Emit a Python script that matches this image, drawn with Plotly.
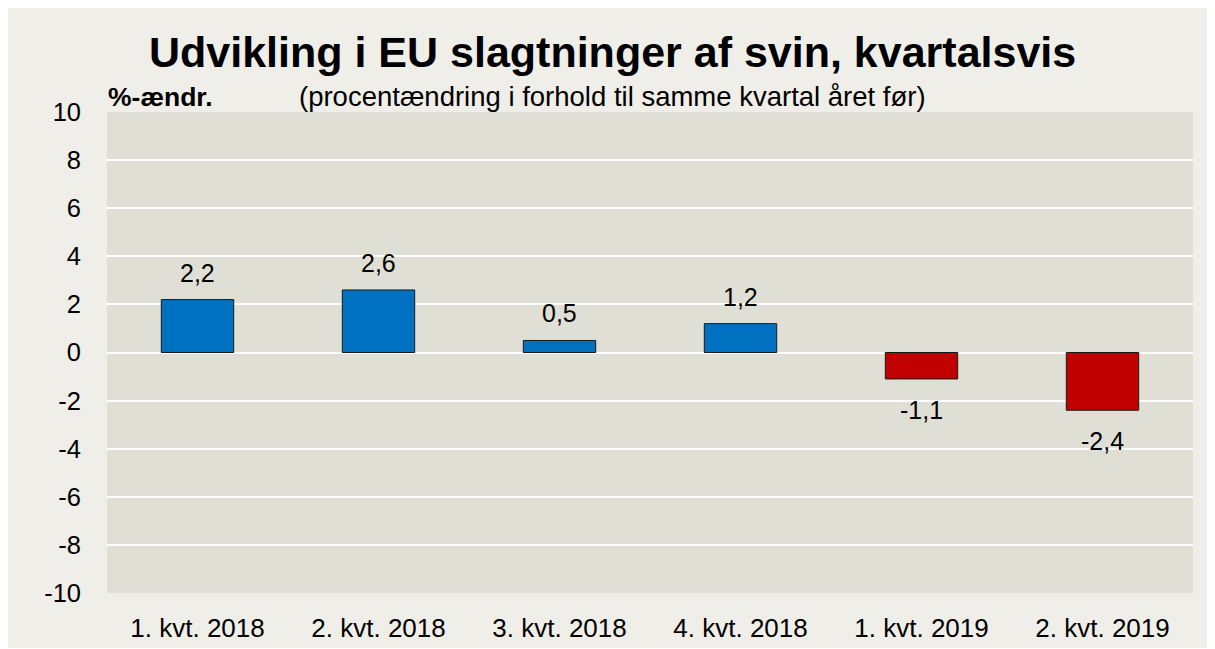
import plotly.graph_objects as go

categories = ["1. kvt. 2018", "2. kvt. 2018", "3. kvt. 2018", "4. kvt. 2018", "1. kvt. 2019", "2. kvt. 2019"]
values = [2.2, 2.6, 0.5, 1.2, -1.1, -2.4]
tick_vals = [-10, -8, -6, -4, -2, 0, 2, 4, 6, 8, 10]

colors = ["#0070C0" if v >= 0 else "#C00000" for v in values]
labels = [f"{v:.1f}".replace(".", ",") for v in values]

FONT = "Liberation Sans, Arial"

fig = go.Figure()
fig.add_trace(go.Bar(
    x=categories, y=values, width=0.4,
    marker=dict(color=colors, line=dict(color="#1a1a1a", width=1)),
    hoverinfo="skip",
))

for c, v, t in zip(categories, values, labels):
    fig.add_annotation(
        x=c, y=v, text=t, showarrow=False,
        yanchor="bottom" if v >= 0 else "top",
        yshift=11 if v >= 0 else -15,
        font=dict(family=FONT, size=25, color="#000000"),
    )

# page offset (body margin) compensation
OX, OY = 8, 8
W, H = 1215, 649
# target screen coords of plot area
SL, SR, ST, SB = 107, 1193, 112, 593
L = SL - OX
T = ST - OY
R = W - (SR - OX)
B = H - (SB - OY)
pw, ph = W - L - R, H - T - B

def px(x):
    return (x - OX - L) / pw

def py(y):
    return (H - B - (y - OY)) / ph

fig.add_shape(type="rect", xref="paper", yref="paper",
              x0=px(7), x1=px(1208), y0=py(648), y1=py(5),
              fillcolor="#EFEEE8", line=dict(width=0), layer="below")
fig.add_shape(type="rect", xref="paper", yref="paper",
              x0=0, x1=1, y0=0, y1=1,
              fillcolor="#E0DFD5", line=dict(width=0), layer="below")

fig.add_annotation(xref="paper", yref="paper", x=px(612), y=py(52),
                   text="<b>Udvikling i EU slagtninger af svin, kvartalsvis</b>",
                   showarrow=False, xanchor="center", yanchor="middle",
                   font=dict(family=FONT, size=43, color="#000000"))
fig.add_annotation(xref="paper", yref="paper", x=px(612), y=py(96),
                   text="(procentændring i forhold til samme kvartal året før)",
                   showarrow=False, xanchor="center", yanchor="middle",
                   font=dict(family=FONT, size=27.5, color="#000000"))
fig.add_annotation(xref="paper", yref="paper", x=px(106), y=py(97),
                   text="<b>%-ændr.</b>",
                   showarrow=False, xanchor="left", yanchor="middle",
                   font=dict(family=FONT, size=26.5, color="#000000"))

fig.update_layout(
    width=W, height=H,
    margin=dict(l=L, r=R, t=T, b=B, pad=0),
    paper_bgcolor="#FFFFFF",
    plot_bgcolor="rgba(0,0,0,0)",
    showlegend=False,
    font=dict(family=FONT, size=25, color="#000000"),
    xaxis=dict(showgrid=False, showline=False, ticks="", tickfont=dict(size=26),
               ticklabelstandoff=17),
    yaxis=dict(range=[-10, 10], tickvals=tick_vals, ticktext=[str(v) for v in tick_vals],
               showgrid=True, gridcolor="#FFFFFF", gridwidth=2,
               zeroline=True, zerolinecolor="#FFFFFF", zerolinewidth=2,
               showline=False, ticks="", tickfont=dict(size=25.5), ticklabelstandoff=25),
)

fig.write_html("out.html")
